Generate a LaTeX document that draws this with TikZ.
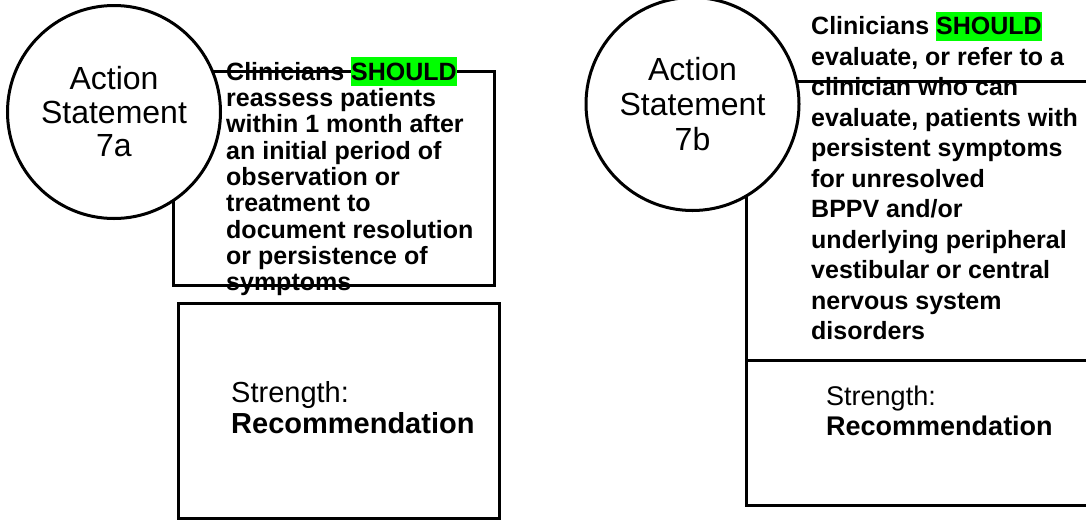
\documentclass[tikz,border=0pt]{standalone}
\usepackage{fontspec}
\setmainfont{Liberation Sans}
\usepackage{xcolor}
\usepackage{tikz}
\definecolor{hlgreen}{RGB}{0,255,0}
\newcommand{\hlgreen}[1]{{\setlength{\fboxsep}{0pt}\colorbox{hlgreen}{\rule[-0.24em]{0pt}{1.16em}#1}}}

\begin{document}
\begin{tikzpicture}[x=1pt,y=-1pt,
    actcircle/.style={circle,draw,line width=3pt,fill=white,minimum size=213,
      inner sep=0pt,align=center,font=\fontsize{32}{33.5}\selectfont},
    stmtbox/.style={draw,line width=3pt,inner sep=0pt},
    stmttext/.style={anchor=north west,inner sep=0pt,align=left},
    strtext/.style={anchor=west,inner sep=0pt,align=left}]
    \clip (0,0) rectangle (1086,520);
    \node[stmtbox,minimum width=321,minimum height=214] (box7a) at (333.5,178) {};
    \node[stmtbox,minimum width=321,minimum height=215] (str7a) at (338.5,410.5) {};
    \node[actcircle] (as7a) at (114,112) {Action\\Statement\\7a};
    \node[stmttext,font=\fontsize{25}{26.3}\selectfont\bfseries] (txt7a) at (226,57)
      {Clinicians \hlgreen{SHOULD}\\reassess patients\\within 1 month after\\an initial period of\\
       observation or\\treatment to\\document resolution\\or persistence of\\symptoms};
    \node[strtext,font=\fontsize{29}{31}\selectfont] (lbl7a) at (231,408)
      {Strength:\\\textbf{Recommendation}};
    \node[stmtbox,minimum width=349,minimum height=279] (box7b) at (920.5,220.5) {};
    \node[stmtbox,minimum width=349,minimum height=145] (str7b) at (920.5,432.5) {};
    \node[actcircle,font=\fontsize{32}{35}\selectfont] (as7b) at (692.5,104) {Action\\Statement\\7b};
    \node[stmttext,font=\fontsize{25}{30.5}\selectfont\bfseries] (txt7b) at (811,11.5)
      {Clinicians \hlgreen{SHOULD}\\evaluate, or refer to a\\clinician who can\\evaluate, patients with\\
       persistent symptoms\\for unresolved\\BPPV and/or\\underlying peripheral\\
       vestibular or central\\nervous system\\disorders};
    \node[strtext,font=\fontsize{27}{30}\selectfont] (lbl7b) at (826,410.4)
      {Strength:\\\textbf{Recommendation}};
\end{tikzpicture}
\end{document}
